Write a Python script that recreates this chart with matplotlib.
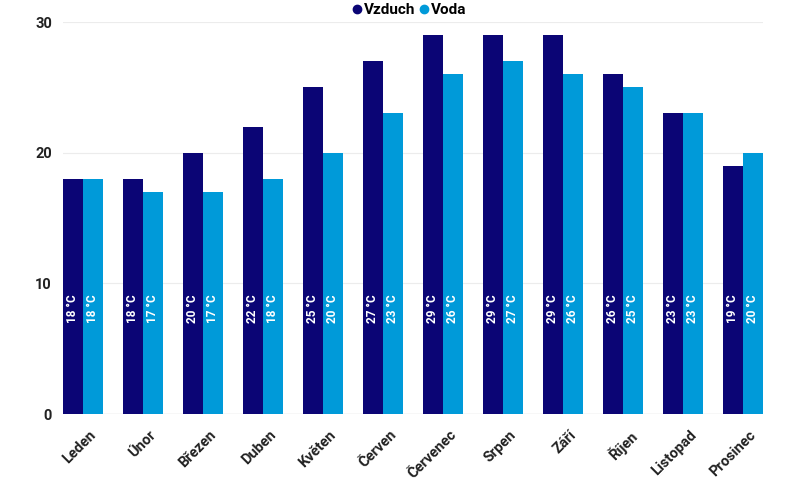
import numpy as np
import matplotlib.pyplot as plt
from matplotlib.lines import Line2D

months = ["Leden", "Únor", "Březen", "Duben", "Květen", "Červen",
          "Červenec", "Srpen", "Září", "Říjen", "Listopad", "Prosinec"]
air = [18, 18, 20, 22, 25, 27, 29, 29, 29, 26, 23, 19]
water = [18, 17, 17, 18, 20, 23, 26, 27, 26, 25, 23, 20]

c_air = "#0b0575"
c_water = "#009ad9"

plt.rcParams['font.family'] = ['Roboto', 'DejaVu Sans']

fig = plt.figure(figsize=(8, 4.8), dpi=100)
ax = fig.add_axes([63 / 800, 66 / 480, 700 / 800, 392 / 480])

x = np.arange(len(months))
w = 1 / 3
ax.bar(x - w / 2, air, w, color=c_air, zorder=2)
ax.bar(x + w / 2, water, w, color=c_water, zorder=2)

for xs, vals in ((x - w / 2, air), (x + w / 2, water)):
    for xi, v in zip(xs, vals):
        ax.text(xi, 9.15, f"{v} °C", rotation=90, ha="center", va="top",
                color="white", fontsize=8.5, fontweight="bold")

ax.set_xlim(-w, 11 + w)
ax.set_ylim(0, 30)
ax.set_yticks([0, 10, 20, 30])
ax.yaxis.grid(True, color="#ececec", linewidth=0.8, zorder=0)
for s in ax.spines.values():
    s.set_visible(False)
ax.axhline(0, color="#dddddd", linewidth=1, zorder=1)
ax.tick_params(length=0, labelsize=10.5)
ax.tick_params(axis="y", pad=8)
for t in ax.get_yticklabels():
    t.set_fontweight("bold")
    t.set_color("#222222")
ax.set_xticks(x + 0.1)
ax.set_xticklabels(months, rotation=45, ha="right", rotation_mode="anchor",
                   fontweight="bold", color="#222222")
ax.tick_params(axis="x", pad=10)

handles = [Line2D([], [], marker="o", linestyle="", color=c_air, markersize=6),
           Line2D([], [], marker="o", linestyle="", color=c_water, markersize=6)]
fig.legend(handles, ["Vzduch", "Voda"], loc="upper center", bbox_to_anchor=(0.512, 1.022),
           ncol=2, frameon=False, handlelength=0.6, handletextpad=0.15,
           columnspacing=0.3, prop={"weight": "bold", "size": 11})

fig.savefig("out.png", dpi=100)
